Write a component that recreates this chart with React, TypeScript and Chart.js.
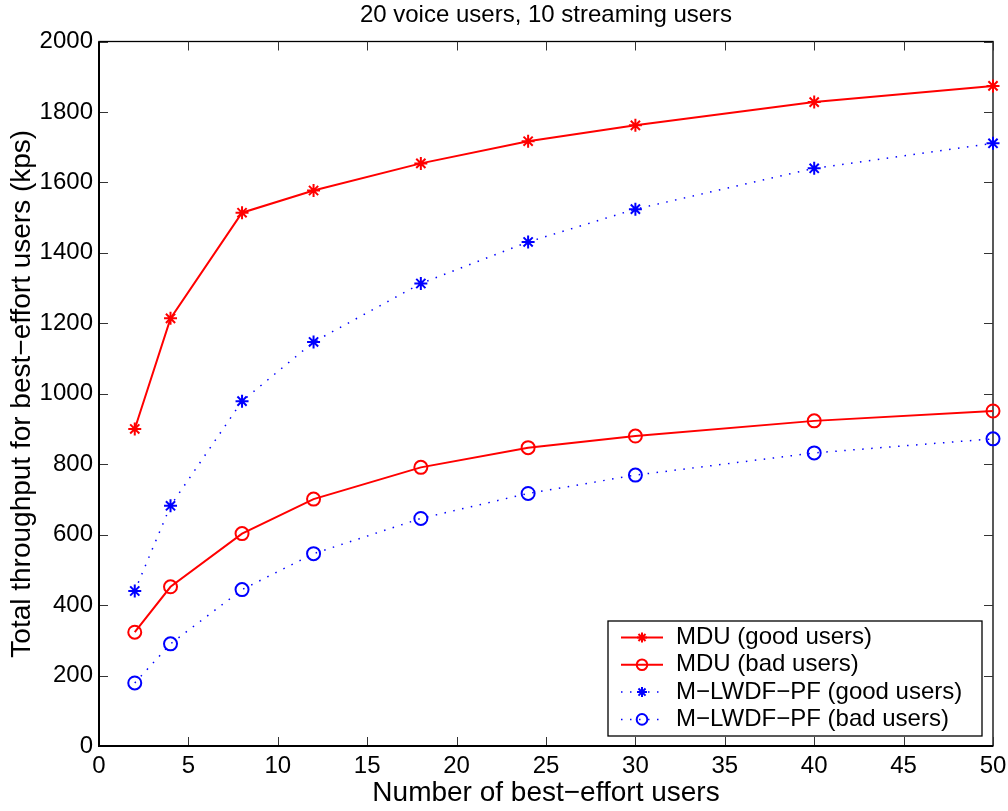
import React, { useEffect, useRef } from "react";
import { Chart, registerables } from "chart.js";

Chart.register(...registerables);

const xUsers = [2, 4, 8, 12, 18, 24, 30, 40, 50];
const mduGood = [900, 1214, 1514, 1577, 1654, 1717, 1762, 1828, 1874];
const mduBad = [323, 452, 603, 701, 791, 847, 880, 923, 951];
const lwdfGood = [440, 682, 979, 1147, 1313, 1431, 1524, 1640, 1711];
const lwdfBad = [179, 290, 444, 546, 646, 717, 769, 832, 872];

const xTicks = [0, 5, 10, 15, 20, 25, 30, 35, 40, 45, 50];
const yTicks = [0, 200, 400, 600, 800, 1000, 1200, 1400, 1600, 1800, 2000];

const seriesLabels = [
  "MDU (good users)",
  "MDU (bad users)",
  "M\u2212LWDF\u2212PF (good users)",
  "M\u2212LWDF\u2212PF (bad users)",
];
const titleText = "20 voice users, 10 streaming users";
const xLabel = "Number of best\u2212effort users";
const yLabel = "Total throughput for best\u2212effort users (kps)";

const FONT = "'Liberation Sans', Arial, Helvetica, sans-serif";
const RED = "rgb(255,0,0)";
const BLUE = "rgb(0,0,255)";
const DOT = [1.5, 7.5];

function drawStar(ctx: CanvasRenderingContext2D, x: number, y: number, r: number) {
  const d = r * Math.SQRT1_2;
  ctx.beginPath();
  ctx.moveTo(x - r, y);
  ctx.lineTo(x + r, y);
  ctx.moveTo(x, y - r);
  ctx.lineTo(x, y + r);
  ctx.moveTo(x - d, y - d);
  ctx.lineTo(x + d, y + d);
  ctx.moveTo(x - d, y + d);
  ctx.lineTo(x + d, y - d);
  ctx.stroke();
}

const framePlugin = {
  id: "frame",
  beforeDatasetsDraw(chart: any) {
    const { ctx, chartArea } = chart;
    const { left, right, top, bottom } = chartArea;
    const xs = chart.scales.x;
    const ys = chart.scales.y;
    ctx.save();
    ctx.strokeStyle = "#000";
    ctx.lineWidth = 1.3;
    ctx.setLineDash([]);
    ctx.strokeRect(left, top, right - left, bottom - top);
    ctx.lineWidth = 1;
    ctx.strokeStyle = "#333";
    const tl = 9;
    ctx.beginPath();
    for (const v of xTicks) {
      const px = Math.round(xs.getPixelForValue(v)) + 0.5;
      ctx.moveTo(px, bottom);
      ctx.lineTo(px, bottom - tl);
      ctx.moveTo(px, top);
      ctx.lineTo(px, top + tl);
    }
    for (const v of yTicks) {
      const py = Math.round(ys.getPixelForValue(v)) + 0.5;
      ctx.moveTo(left, py);
      ctx.lineTo(left + tl, py);
      ctx.moveTo(right, py);
      ctx.lineTo(right - tl, py);
    }
    ctx.stroke();
    ctx.strokeStyle = "#000";
    ctx.lineWidth = 2;
    ctx.beginPath();
    ctx.moveTo(left, top);
    ctx.lineTo(left, bottom);
    ctx.lineTo(right, bottom);
    ctx.stroke();
    // title
    ctx.fillStyle = "#000";
    ctx.font = `24px ${FONT}`;
    ctx.textAlign = "center";
    ctx.textBaseline = "middle";
    ctx.fillText(titleText, (left + right) / 2, 15);
    ctx.restore();
  },
  afterDraw(chart: any) {
    const { ctx, chartArea } = chart;
    const w = 374;
    const h = 115;
    const bx = chartArea.right - 11 - w;
    const by = chartArea.bottom - 10 - h;
    ctx.save();
    ctx.fillStyle = "#fff";
    ctx.fillRect(bx, by, w, h);
    ctx.strokeStyle = "#000";
    ctx.lineWidth = 1.3;
    ctx.strokeRect(bx, by, w, h);
    const styles = [
      { color: RED, dash: [] as number[], star: true },
      { color: RED, dash: [] as number[], star: false },
      { color: BLUE, dash: DOT, star: true },
      { color: BLUE, dash: DOT, star: false },
    ];
    styles.forEach((s, i) => {
      const cy = by + 16.5 + i * 27.3;
      ctx.strokeStyle = s.color;
      ctx.lineWidth = s.dash.length ? 1.5 : 2;
      ctx.setLineDash(s.dash);
      ctx.beginPath();
      ctx.moveTo(bx + 13, cy);
      ctx.lineTo(bx + 55, cy);
      ctx.stroke();
      ctx.setLineDash([]);
      ctx.lineWidth = 2;
      if (s.star) {
        drawStar(ctx, bx + 34, cy, 5);
      } else {
        ctx.beginPath();
        ctx.arc(bx + 34, cy, 5.3, 0, Math.PI * 2);
        ctx.stroke();
      }
      ctx.fillStyle = "#000";
      ctx.font = `24px ${FONT}`;
      ctx.textAlign = "left";
      ctx.textBaseline = "middle";
      ctx.fillText(seriesLabels[i], bx + 68, cy);
    });
    ctx.restore();
  },
};

export default function App() {
  const ref = useRef<HTMLCanvasElement | null>(null);
  useEffect(() => {
    const canvas = ref.current;
    if (!canvas) return;
    const mk = (vals: number[]) => xUsers.map((x, i) => ({ x, y: vals[i] }));
    const chart = new Chart(canvas, {
      type: "line",
      data: {
        datasets: [
          {
            label: seriesLabels[0],
            data: mk(mduGood),
            borderColor: RED,
            backgroundColor: RED,
            borderWidth: 2,
            pointStyle: "star",
            pointRadius: 6.5,
            pointBorderWidth: 2,
            pointBorderColor: RED,
            fill: false,
            clip: false as any,
          },
          {
            label: seriesLabels[1],
            data: mk(mduBad),
            borderColor: RED,
            backgroundColor: "rgba(0,0,0,0)",
            borderWidth: 2,
            pointStyle: "circle",
            pointRadius: 6.5,
            pointBorderWidth: 2,
            pointBorderColor: RED,
            pointBackgroundColor: "rgba(0,0,0,0)",
            fill: false,
            clip: false as any,
          },
          {
            label: seriesLabels[2],
            data: mk(lwdfGood),
            borderColor: BLUE,
            backgroundColor: BLUE,
            borderWidth: 1.5,
            borderDash: DOT,
            pointStyle: "star",
            pointRadius: 6.5,
            pointBorderWidth: 2,
            pointBorderColor: BLUE,
            fill: false,
            clip: false as any,
          },
          {
            label: seriesLabels[3],
            data: mk(lwdfBad),
            borderColor: BLUE,
            backgroundColor: "rgba(0,0,0,0)",
            borderWidth: 1.5,
            borderDash: DOT,
            pointStyle: "circle",
            pointRadius: 6.5,
            pointBorderWidth: 2,
            pointBorderColor: BLUE,
            pointBackgroundColor: "rgba(0,0,0,0)",
            fill: false,
            clip: false as any,
          },
        ],
      },
      options: {
        responsive: false,
        animation: false,
        devicePixelRatio: 1,
        layout: { padding: { top: 41.5, right: 15, left: 0, bottom: 0 } },
        plugins: {
          legend: { display: false },
          title: { display: false },
          tooltip: { enabled: false },
        },
        scales: {
          x: {
            type: "linear",
            min: 0,
            max: 50,
            grid: { display: false, drawTicks: false },
            border: { display: false },
            afterBuildTicks: (s: any) => {
              s.ticks = xTicks.map((v) => ({ value: v }));
            },
            afterFit: (s: any) => {
              s.height = 65;
              s.paddingRight = 0;
              s.paddingLeft = 0;
            },
            ticks: {
              color: "#000",
              font: { family: FONT, size: 24 },
              padding: 6,
              maxRotation: 0,
              autoSkip: false,
              callback: (v: any) => String(v),
            },
            title: {
              display: true,
              text: xLabel,
              color: "#000",
              font: { family: FONT, size: 28 },
              padding: { top: 0, bottom: 1 },
            },
          },
          y: {
            type: "linear",
            min: 0,
            max: 2000,
            grid: { display: false, drawTicks: false },
            border: { display: false },
            afterBuildTicks: (s: any) => {
              s.ticks = yTicks.map((v) => ({ value: v }));
            },
            afterFit: (s: any) => {
              s.width = 99;
              s.paddingTop = 0;
              s.paddingBottom = 0;
            },
            ticks: {
              color: "#000",
              font: { family: FONT, size: 24 },
              padding: 6,
              autoSkip: false,
              callback: (v: any) => String(v),
            },
            title: {
              display: true,
              text: yLabel,
              color: "#000",
              font: { family: FONT, size: 28 },
              padding: { top: 5, bottom: 0 },
            },
          },
        },
      },
      plugins: [framePlugin],
    });
    return () => chart.destroy();
  }, []);
  return (
    <div style={{ position: "absolute", left: 0, top: 0, width: 1008, height: 811, background: "#fff" }}>
      <canvas ref={ref} width={1008} height={811} style={{ display: "block" }} />
    </div>
  );
}
